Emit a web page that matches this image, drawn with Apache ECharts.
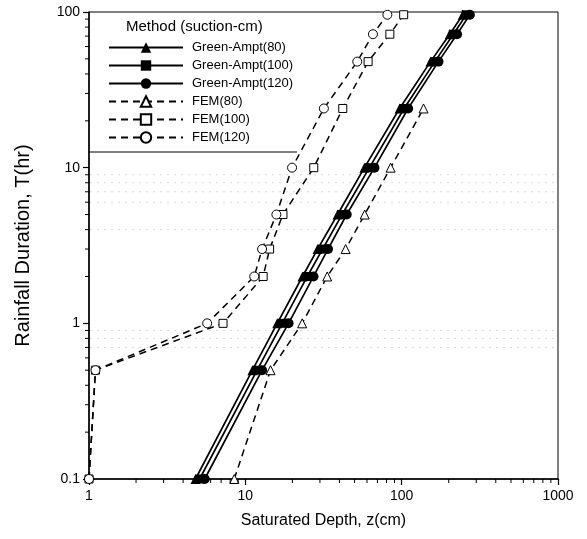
<!DOCTYPE html>
<html>
<head>
<meta charset="utf-8">
<script src="https://cdn.jsdelivr.net/npm/echarts@6/dist/echarts.min.js"></script>
<style>html,body{margin:0;padding:0;background:#fff;}#c{width:587px;height:539px;}</style>
</head>
<body>
<div id="c"></div>
<script>
// Rainfall duration T(hr) for each point
var durations = [0.1, 0.5, 1, 2, 3, 5, 10, 24, 48, 72, 96];
var durationsFem80 = [0.1, 0.5, 1, 2, 3, 5, 10, 24];
// Saturated depth z(cm)
var ga80  = [4.8, 11.1, 16.0, 23.2, 29.0, 38.9, 57.8, 97, 153, 203, 246];
var ga100 = [5.1, 11.9, 17.2, 24.9, 31.2, 41.6, 62.2, 103.6, 163, 214, 259];
var ga120 = [5.5, 12.8, 18.9, 27.3, 33.8, 44.5, 67, 110, 172, 226, 273];
var fem80  = [8.5, 14.5, 23.1, 33.4, 43.8, 58, 85, 138];
var fem100 = [1.0, 1.1, 7.2, 13.0, 14.3, 17.4, 27.4, 42, 61, 84, 103];
var fem120 = [1.0, 1.1, 5.7, 11.4, 12.8, 15.8, 19.9, 31.8, 52, 65.5, 81];
var seriesNames = ['Green-Ampt(80)', 'Green-Ampt(100)', 'Green-Ampt(120)', 'FEM(80)', 'FEM(100)', 'FEM(120)'];
var legendTitle = 'Method (suction-cm)';
var xName = 'Saturated Depth, z(cm)';
var yName = 'Rainfall Duration, T(hr)';
// minor tick values
var xMinor = [2,3,4,5,6,7,8,9,20,30,40,50,60,70,80,90,200,300,400,500,600,700,800,900];
var yMinor = [0.2,0.3,0.4,0.5,0.6,0.7,0.8,0.9,2,3,4,5,6,7,8,9,20,30,40,50,60,70,80,90];
var faintY = [0.7, 0.8, 0.9, 4, 6, 7, 8, 9];

function pairs(xs, ts) { return xs.map(function (v, i) { return [v, ts[i]]; }); }

var FONT = 'Liberation Sans, Arial, Helvetica, sans-serif';
var chart = echarts.init(document.getElementById('c'), null, {renderer: 'canvas'});

function gaSeries(name, data, sym, size) {
  return {
    name: name, type: 'line', data: pairs(data, durations),
    symbol: sym, symbolSize: size, showSymbol: true,
    lineStyle: {color: '#000', width: 1.7, type: 'solid'},
    itemStyle: {color: '#000', borderColor: '#000', borderWidth: 0},
    z: 3, clip: false
  };
}
function femSeries(name, data, ts, sym, size) {
  return {
    name: name, type: 'line', data: pairs(data, ts),
    symbol: sym, symbolSize: size, showSymbol: true,
    lineStyle: {color: '#000', width: 1.5, type: [7, 5]},
    itemStyle: {color: '#fff', borderColor: '#000', borderWidth: 1},
    z: 4, clip: false
  };
}
function plainNum(v) { return String(+(+v).toPrecision(6)); }

var option = {
  backgroundColor: '#fff',
  animation: false,
  grid: {left: 89, right: 29, top: 12, bottom: 60, show: true, borderColor: '#000', borderWidth: 1, backgroundColor: 'transparent'},
  xAxis: {
    type: 'log', logBase: 10, min: 1, max: 1000,
    name: xName, nameLocation: 'middle', nameGap: 34,
    nameTextStyle: {fontFamily: FONT, fontSize: 16, color: '#000'},
    axisLine: {show: true, lineStyle: {color: '#000', width: 1.5}},
    axisTick: {show: true, length: 6, lineStyle: {color: '#000', width: 1.2}},
    axisLabel: {fontFamily: FONT, fontSize: 14, color: '#000', margin: 10, formatter: plainNum},
    splitLine: {show: false}, minorTick: {show: false}
  },
  yAxis: {
    type: 'log', logBase: 10, min: 0.1, max: 100,
    name: yName, nameLocation: 'middle', nameGap: 56, nameRotate: 90,
    nameTextStyle: {fontFamily: FONT, fontSize: 20, color: '#000'},
    axisLine: {show: true, lineStyle: {color: '#000', width: 1.5}},
    axisTick: {show: true, length: 6, lineStyle: {color: '#000', width: 1.2}},
    axisLabel: {fontFamily: FONT, fontSize: 14, color: '#000', margin: 9, formatter: plainNum},
    splitLine: {show: false}, minorTick: {show: false}
  },
  legend: {
    data: seriesNames, orient: 'vertical', left: 103, top: 36,
    itemWidth: 74, itemHeight: 13, itemGap: 5,
    textStyle: {fontFamily: FONT, fontSize: 13, color: '#000', padding: [0, 0, 0, 4]},
    inactiveColor: '#000', selectedMode: false
  },
  graphic: [
    {type: 'text', left: 126, top: 19, style: {text: legendTitle, font: '15px ' + FONT, fill: '#000'}},
    {type: 'line', shape: {x1: 89, y1: 152, x2: 297, y2: 152}, style: {stroke: '#000', lineWidth: 1}}
  ],
  series: [
    gaSeries(seriesNames[0], ga80, 'triangle', 10),
    gaSeries(seriesNames[1], ga100, 'rect', 9),
    gaSeries(seriesNames[2], ga120, 'circle', 10),
    femSeries(seriesNames[3], fem80, durationsFem80, 'triangle', 9),
    femSeries(seriesNames[4], fem100, durations, 'rect', 8),
    femSeries(seriesNames[5], fem120, durations, 'circle', 9),
    {
      name: 'xminor', type: 'custom', clip: false, silent: true, z: 5,
      data: xMinor.map(function (v) { return [v, 0.1]; }),
      renderItem: function (params, api) {
        var p = api.coord([api.value(0), api.value(1)]);
        return {type: 'line', shape: {x1: p[0], y1: p[1], x2: p[0], y2: p[1] + 4}, style: {stroke: '#000', lineWidth: 1}};
      }
    },
    {
      name: 'yminor', type: 'custom', clip: false, silent: true, z: 5,
      data: yMinor.map(function (v) { return [1, v]; }),
      renderItem: function (params, api) {
        var p = api.coord([api.value(0), api.value(1)]);
        return {type: 'line', shape: {x1: p[0] - 4, y1: p[1], x2: p[0], y2: p[1]}, style: {stroke: '#000', lineWidth: 1}};
      }
    },
    {
      name: 'faint', type: 'custom', clip: false, silent: true, z: 1,
      data: faintY.map(function (v) { return [1, v]; }),
      renderItem: function (params, api) {
        var p = api.coord([1, api.value(1)]);
        var q = api.coord([1000, api.value(1)]);
        return {type: 'line', shape: {x1: p[0] + 1, y1: p[1], x2: q[0] - 1, y2: q[1]}, style: {stroke: '#dadada', lineWidth: 1, lineDash: [2, 5]}};
      }
    }
  ]
};
chart.setOption(option);
</script>
</body>
</html>
